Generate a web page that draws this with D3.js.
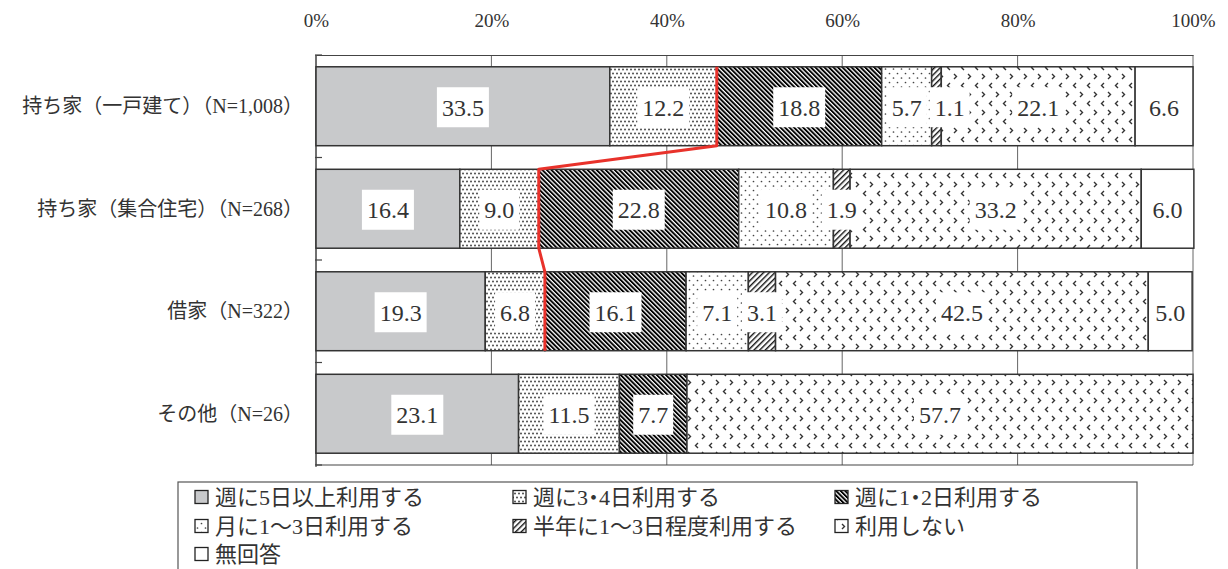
<!DOCTYPE html>
<html><head><meta charset="utf-8">
<script src="https://cdn.jsdelivr.net/npm/d3@7"></script>
<style>
html,body{margin:0;padding:0;background:#fff;}
svg{display:block;}
text{font-family:"Liberation Serif","Noto Sans CJK JP",serif;fill:#333;}
.leg{font-feature-settings:"halt";}
</style></head>
<body>
<svg id="chart" width="1228" height="569"></svg>
<script>
const categories = ["持ち家（一戸建て）（N=1,008）", "持ち家（集合住宅）（N=268）", "借家（N=322）", "その他（N=26）"];
const seriesNames = ["週に5日以上利用する", "週に3・4日利用する", "週に1・2日利用する", "月に1～3日利用する", "半年に1～3日程度利用する", "利用しない", "無回答"];
const weekly5 = [33.5, 16.4, 19.3, 23.1];
const weekly34 = [12.2, 9.0, 6.8, 11.5];
const weekly12 = [18.8, 22.8, 16.1, 7.7];
const monthly13 = [5.7, 10.8, 7.1, 0];
const halfYear = [1.1, 1.9, 3.1, 0];
const notUsed = [22.1, 33.2, 42.5, 57.7];
const noAnswer = [6.6, 6.0, 5.0, 0];
const tickValues = [0, 20, 40, 60, 80, 100];
const redLineCount = 3;

const seriesValues = [weekly5, weekly34, weekly12, monthly13, halfYear, notUsed, noAnswer];
const keys = seriesNames;
const rows = categories.map((c, i) => {
  const r = {cat: c};
  keys.forEach((k, j) => r[k] = seriesValues[j][i]);
  return r;
});

const svg = d3.select("#chart");
const L = 316, R = 1193, T = 55, B = 465;
const x = d3.scaleLinear().domain([0, 100]).range([L, R]);
const y = d3.scaleBand().domain(categories).range([T, B]).paddingInner(0.23).paddingOuter(0.115);

// patterns
const defs = svg.append("defs");
function pat(id, w, h, transform) {
  const p = defs.append("pattern").attr("id", id).attr("patternUnits", "userSpaceOnUse")
    .attr("width", w).attr("height", h);
  if (transform) p.attr("patternTransform", transform);
  p.append("rect").attr("width", w).attr("height", h).attr("fill", "#fff");
  return p;
}
let p;
p = pat("p-dense", 4, 8);
p.append("circle").attr("cx", 1).attr("cy", 1.5).attr("r", 0.95).attr("fill", "#444");
p.append("circle").attr("cx", 3).attr("cy", 5.5).attr("r", 0.95).attr("fill", "#444");
p = pat("p-back", 3.2, 3.2, "rotate(-45)");
p.append("rect").attr("width", 1.9).attr("height", 3.2).attr("fill", "#000");
p = pat("p-sparse", 8, 9);
p.append("circle").attr("cx", 1.5).attr("cy", 1.5).attr("r", 0.85).attr("fill", "#444");
p.append("circle").attr("cx", 5.5).attr("cy", 6).attr("r", 0.85).attr("fill", "#444");
p = pat("p-fwd", 4, 4, "rotate(45)");
p.append("rect").attr("width", 1.4).attr("height", 4).attr("fill", "#111");
p = pat("p-chev", 14, 18);
p.append("path").attr("d", "M2,2 L4.5,4.5 L2,7").attr("fill", "none").attr("stroke", "#333").attr("stroke-width", 1.4);
p.append("path").attr("d", "M12,11 L9.5,13.5 L12,16").attr("fill", "none").attr("stroke", "#333").attr("stroke-width", 1.4);

const fills = ["#c8c9cb", "url(#p-dense)", "url(#p-back)", "url(#p-sparse)", "url(#p-fwd)", "url(#p-chev)", "#ffffff"];
const color = d3.scaleOrdinal().domain(keys).range(fills);

// gridlines
svg.append("g").selectAll("line").data(tickValues).join("line")
  .attr("x1", d => x(d)).attr("x2", d => x(d)).attr("y1", T).attr("y2", B)
  .attr("stroke", "#666").attr("stroke-width", 1);

// top axis
const ax = svg.append("g").attr("transform", `translate(0,${T})`)
  .call(d3.axisTop(x).tickValues(tickValues).tickFormat(d => d + "%").tickSize(0).tickSizeOuter(0).tickPadding(28));
ax.select(".domain").attr("stroke", "#444").attr("stroke-width", 1.2);
ax.selectAll("text").style("font-family", '"Liberation Serif", serif').style("font-size", "19px").attr("fill", "#333");

// bottom & left lines
svg.append("line").attr("x1", L).attr("x2", R).attr("y1", B).attr("y2", B).attr("stroke", "#444").attr("stroke-width", 1.2);
svg.append("line").attr("x1", L).attr("x2", L).attr("y1", T).attr("y2", B + 2).attr("stroke", "#444").attr("stroke-width", 1.2);
// category separator ticks
const step = y.step();
const sepY = d3.range(categories.length + 1).map(i => T + i * step);
svg.append("g").selectAll("line").data(sepY).join("line")
  .attr("x1", L - 1).attr("x2", L + 6).attr("y1", d => d).attr("y2", d => d)
  .attr("stroke", "#444").attr("stroke-width", 1.2);

// category labels
svg.append("g").selectAll("text").data(categories).join("text")
  .attr("x", 303).attr("y", d => y(d) + y.bandwidth() / 2).attr("dy", "0.36em")
  .attr("text-anchor", "end").style("font-size", "20px").text(d => d);

// bars
const stacked = d3.stack().keys(keys)(rows);
const segs = [];
stacked.forEach((s, si) => s.forEach((d, ci) => {
  segs.push({key: s.key, si, cat: d.data.cat, x0: d[0], x1: d[1], v: d.data[s.key]});
}));
svg.append("g").selectAll("rect").data(segs.filter(d => d.v > 0)).join("rect")
  .attr("x", d => x(d.x0)).attr("y", d => y(d.cat))
  .attr("width", d => x(d.x1) - x(d.x0)).attr("height", y.bandwidth())
  .attr("fill", d => color(d.key)).attr("stroke", "#333").attr("stroke-width", 1.5);

// red line connecting cumulative of first two series
const redPts = [];
categories.slice(0, redLineCount).forEach((c, i) => {
  const cum = weekly5[i] + weekly34[i];
  redPts.push([x(cum), y(c)]);
  redPts.push([x(cum), y(c) + y.bandwidth()]);
});
svg.append("path").attr("d", d3.line()(redPts)).attr("fill", "none")
  .attr("stroke", "#e8322b").attr("stroke-width", 3).attr("stroke-linejoin", "round");

// value labels with white boxes
const lblG = svg.append("g");
categories.forEach(c => {
  let prevRight = -Infinity;
  segs.filter(d => d.cat === c && d.v > 0).forEach(d => {
    const g = lblG.append("g");
    const t = g.append("text").attr("text-anchor", "middle").attr("dy", "0.35em")
      .style("font-size", "24px").style("font-family", '"Liberation Serif", serif').text(d.v.toFixed(1));
    const w = t.node().getComputedTextLength() + 10;
    let cx = (x(d.x0) + x(d.x1)) / 2;
    if (cx - w / 2 < prevRight + 3) cx = prevRight + 3 + w / 2;
    prevRight = cx + w / 2;
    const cy = y(c) + y.bandwidth() / 2 + 1;
    t.attr("x", cx).attr("y", cy);
    g.insert("rect", "text").attr("x", cx - w / 2).attr("y", cy - 20).attr("width", w).attr("height", 40).attr("fill", "#fff");
  });
});

// legend
const lg = svg.append("g");
lg.append("rect").attr("x", 178).attr("y", 482).attr("width", 959).attr("height", 120)
  .attr("fill", "#fff").attr("stroke", "#555").attr("stroke-width", 1.2);
const colX = [195, 513, 835];
const rowY = [497, 526, 554];
keys.forEach((k, i) => {
  const cx = colX[i % 3], cy = rowY[Math.floor(i / 3)];
  lg.append("rect").attr("x", cx).attr("y", cy - 6.5).attr("width", 13).attr("height", 13)
    .attr("fill", color(k)).attr("stroke", "#222").attr("stroke-width", 1.3);
  lg.append("text").attr("class", "leg").attr("x", cx + 20).attr("y", cy).attr("dy", "0.36em")
    .style("font-size", "22px").text(k);
});
</script>
</body></html>
